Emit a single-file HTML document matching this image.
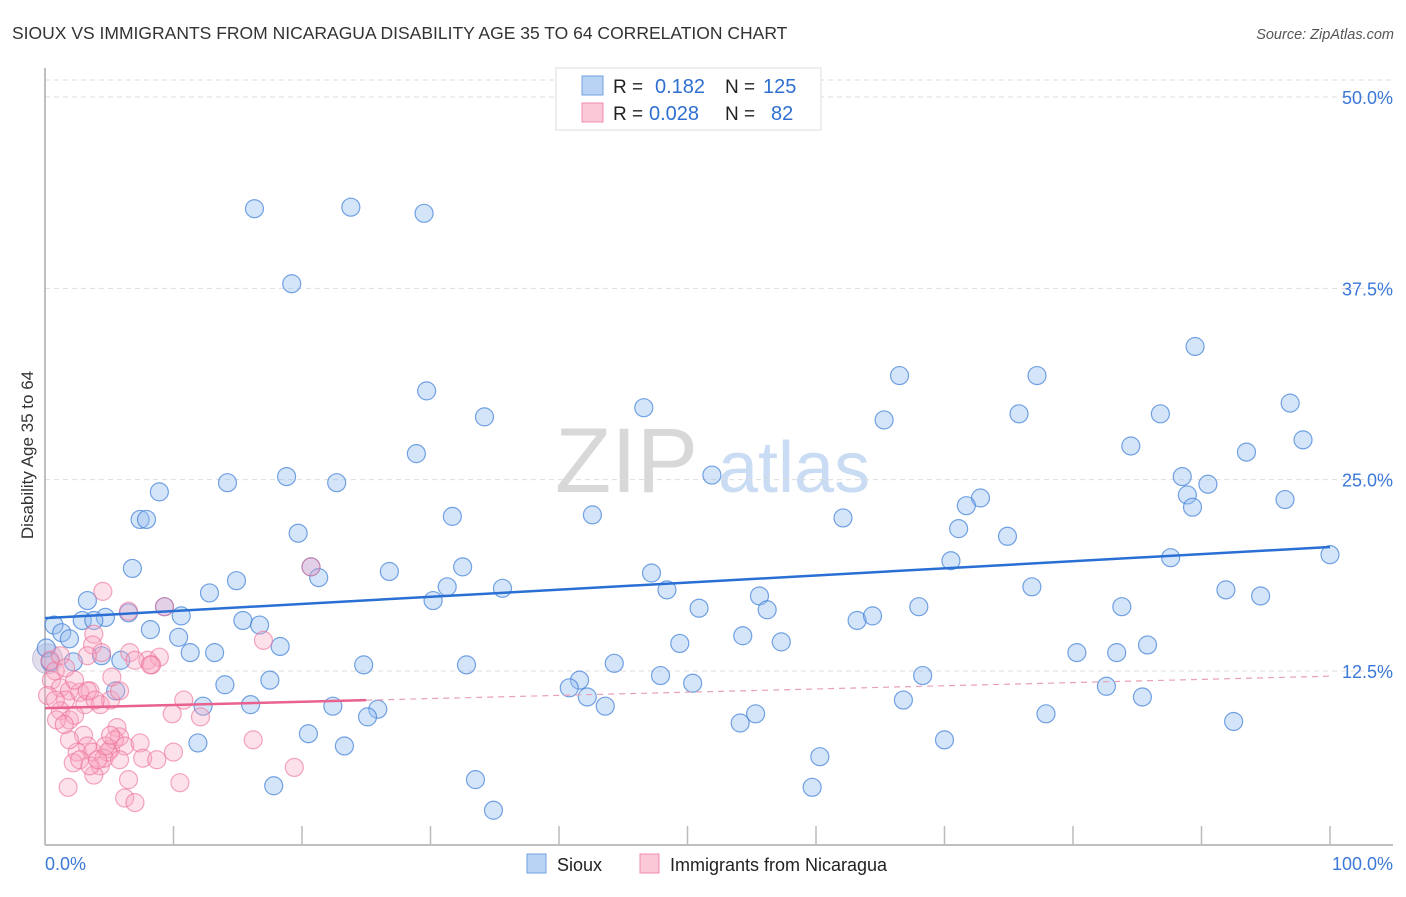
<!DOCTYPE html>
<html><head><meta charset="utf-8"><style>
body{margin:0;background:#fff;font-family:"Liberation Sans",sans-serif}
svg text{font-family:"Liberation Sans",sans-serif}
</style></head><body>
<svg id="c" width="1406" height="892">
<text x="12" y="39" font-size="17.5" fill="#333">SIOUX VS IMMIGRANTS FROM NICARAGUA DISABILITY AGE 35 TO 64 CORRELATION CHART</text>
<text x="1394" y="39" font-size="14.5" fill="#555" font-style="italic" text-anchor="end">Source: ZipAtlas.com</text>
<text transform="translate(33,455) rotate(-90)" font-size="17" fill="#333" text-anchor="middle">Disability Age 35 to 64</text>
<text x="555" y="492" font-size="92" fill="#d8d8d8" font-family="Liberation Serif">ZIP</text>
<text x="718" y="492" font-size="72" fill="#c9dcf3">atlas</text>
<g id="grid"></g><g id="pts"></g><g id="lines"></g>
<g>
<rect x="556" y="68" width="265" height="62" fill="#fff" stroke="#ddd"/>
<rect x="582" y="76" width="21" height="19" fill="#b9d3f5" stroke="#6fa0e0"/>
<rect x="582" y="103" width="21" height="19" fill="#fbc8d8" stroke="#f08cab"/>
<text x="613" y="93" font-size="19" fill="#222">R = </text><text x="655" y="93" font-size="20" fill="#2f6fd0">0.182</text>
<text x="725" y="93" font-size="19" fill="#222">N = </text><text x="763" y="93" font-size="20" fill="#2f6fd0">125</text>
<text x="613" y="120" font-size="19" fill="#222">R = </text><text x="649" y="120" font-size="20" fill="#2f6fd0">0.028</text>
<text x="725" y="120" font-size="19" fill="#222">N = </text><text x="771" y="120" font-size="20" fill="#2f6fd0">82</text>
</g>
<g>
<rect x="527" y="854" width="19" height="19" fill="#b9d3f5" stroke="#6fa0e0"/>
<text x="557" y="871" font-size="18" fill="#222">Sioux</text>
<rect x="640" y="854" width="19" height="19" fill="#fbc8d8" stroke="#f08cab"/>
<text x="670" y="871" font-size="18" fill="#222">Immigrants from Nicaragua</text>
</g>
</svg>
<script>
const yTicks=[12.5,25,37.5,50];
const yTickLabels=["12.5%","25.0%","37.5%","50.0%"];
const xTickVals=[0,10,20,30,40,50,60,70,80,90,100];
const siouxX=[16.3,23.8,29.5,19.2,29.7,34.2,28.9,46.6,66.5,77.2,89.5,96.9,97.9,75.8,86.8,84.5,65.3,51.9,93.5,88.5,90.5,88.9,89.3,96.5,72.8,71.7,71.1,74.9,62.1,42.6,31.7,14.2,18.8,22.7,8.9,7.4,7.9,19.7,20.7,21.3,26.8,32.5,31.3,35.6,30.2,14.9,12.8,6.8,3.3,6.5,9.3,10.6,4.7,2.9,3.8,0.7,1.3,1.9,8.2,10.4,15.4,16.7,18.3,11.3,13.2,4.4,2.2,5.9,47.2,48.4,50.9,55.6,56.2,54.3,57.3,49.4,63.2,64.4,68.0,70.5,87.6,100,76.8,83.8,91.9,94.6,80.3,83.4,85.8,24.8,32.8,44.3,41.6,40.8,42.2,43.6,47.9,50.4,68.3,82.6,85.4,66.8,77.9,92.5,55.3,54.1,70.0,60.3,59.7,33.5,34.9,17.8,20.5,23.3,11.9,22.4,25.9,25.1,12.3,14.0,16.0,17.5,5.5,0.1,0.4];
const siouxY=[42.7,42.8,42.4,37.8,30.8,29.1,26.7,29.7,31.8,31.8,33.7,30.0,27.6,29.3,29.3,27.2,28.9,25.3,26.8,25.2,24.7,24.0,23.2,23.7,23.8,23.3,21.8,21.3,22.5,22.7,22.6,24.8,25.2,24.8,24.2,22.4,22.4,21.5,19.3,18.6,19.0,19.3,18.0,17.9,17.1,18.4,17.6,19.2,17.1,16.3,16.7,16.1,16.0,15.8,15.8,15.5,15.0,14.6,15.2,14.7,15.8,15.5,14.1,13.7,13.7,13.5,13.1,13.2,18.9,17.8,16.6,17.4,16.5,14.8,14.4,14.3,15.8,16.1,16.7,19.7,19.9,20.1,18.0,16.7,17.8,17.4,13.7,13.7,14.2,12.9,12.9,13.0,11.9,11.4,10.8,10.2,12.2,11.7,12.2,11.5,10.8,10.6,9.7,9.2,9.7,9.1,8.0,6.9,4.9,5.4,3.4,5.0,8.4,7.6,7.8,10.2,10.0,9.5,10.2,11.6,10.3,11.9,11.2,14.0,13.1];
const nicX=[4.5,6.5,9.3,20.7,3.8,3.7,4.4,17.0,6.6,8.0,8.9,8.3,7.0,5.2,0.4,0.8,0.5,1.2,1.9,2.7,3.5,2.3,1.6,3.1,1.2,1.9,4.3,5.1,5.8,10.8,9.9,12.1,3.0,3.3,2.5,2.2,3.7,4.3,5.6,5.8,5.1,4.9,4.6,5.4,6.2,2.7,3.8,3.5,7.4,7.6,8.7,10.0,16.2,6.5,10.5,19.4,1.8,6.2,7.0,4.1,4.7,1.2,0.2,1.6,3.3,8.2,0.8,3.3,3.9,2.3,1.9,5.8,5.1,0.9,1.5];
const nicY=[17.7,16.4,16.7,19.3,14.9,14.2,13.7,14.5,13.7,13.2,13.4,12.9,13.2,12.1,13.2,12.5,11.9,11.4,11.2,11.1,11.2,11.9,10.6,10.3,9.9,9.3,10.3,10.6,11.2,10.6,9.7,9.5,8.3,7.6,7.2,6.5,7.2,6.3,8.8,8.2,7.4,7.2,6.8,8.0,7.6,6.7,5.7,6.3,7.8,6.8,6.7,7.2,8.0,5.4,5.2,6.2,4.9,4.2,3.9,6.7,7.6,13.5,10.9,12.7,13.5,12.9,10.6,11.2,10.6,9.6,8.0,6.7,8.3,9.3,9.0];
const siouxTrend=[15.95,20.6];
const nicTrend=[10.07,12.16];
const nicSolidEnd=25;
const X=v=>45+v*12.85, Y=v=>862.3-v*15.306;
const NS="http://www.w3.org/2000/svg";
function mk(t,a,p){const e=document.createElementNS(NS,t);for(const k in a)e.setAttribute(k,a[k]);p.appendChild(e);return e;}
const g=document.getElementById('grid');
const topLine=mk('line',{x1:45,x2:1393,y1:80,y2:80,stroke:'#ddd','stroke-dasharray':'5,4'},g);


yTicks.forEach((v,i)=>{
 const l=mk('line',{x1:45,x2:1393,y1:Y(v),y2:Y(v),stroke:'#ddd','stroke-dasharray':'5,4'},g);
 
 
 const t=mk('text',{x:1393,y:Y(v)+7,'font-size':18,fill:'#3b78d8','text-anchor':'end'},g);
 t.textContent=yTickLabels[i];
 
 
});
const ax=mk('line',{x1:45,x2:45,y1:68,y2:845,stroke:'#aaa','stroke-width':1.5},g);


const bx=mk('line',{x1:45,x2:1393,y1:845,y2:845,stroke:'#aaa','stroke-width':1.5},g);


xTickVals.forEach(v=>{const l=mk('line',{x1:X(v),x2:X(v),y1:826,y2:845,stroke:'#bbb','stroke-width':1.5},g);
 
 });
const xl=mk('text',{x:45,y:870,'font-size':18,fill:'#3b78d8'},g);xl.textContent='0.0%';


const xr=mk('text',{x:1393,y:870,'font-size':18,fill:'#3b78d8','text-anchor':'end'},g);xr.textContent='100.0%';


const p=document.getElementById('pts');
const big=mk('circle',{cx:X(0.2),cy:Y(13.3),r:15,fill:'rgba(190,180,210,0.45)',stroke:'rgba(150,150,200,0.5)'},p);


siouxX.forEach((v,i)=>{const c=mk('circle',{cx:X(v),cy:Y(siouxY[i]),r:9,fill:'rgba(150,190,240,0.4)',stroke:'rgba(60,125,215,0.7)','stroke-width':1.2},p);
 
 });
nicX.forEach((v,i)=>{const c=mk('circle',{cx:X(v),cy:Y(nicY[i]),r:9,fill:'rgba(248,170,195,0.35)',stroke:'rgba(235,110,150,0.6)','stroke-width':1.2},p);
 
 });
const L=document.getElementById('lines');
const s=mk('line',{x1:X(0),y1:Y(siouxTrend[0]),x2:X(100),y2:Y(siouxTrend[1]),stroke:'#2a6fd4','stroke-width':2.5},L);


const nm=nicTrend[0]+(nicTrend[1]-nicTrend[0])*nicSolidEnd/100;
const n1=mk('line',{x1:X(0),y1:Y(nicTrend[0]),x2:X(nicSolidEnd),y2:Y(nm),stroke:'#e8618f','stroke-width':2.5},L);


const n2=mk('line',{x1:X(nicSolidEnd),y1:Y(nm),x2:X(100),y2:Y(nicTrend[1]),stroke:'#e8a0b8','stroke-width':1.2,'stroke-dasharray':'6,5'},L);


</script>
</body></html>
